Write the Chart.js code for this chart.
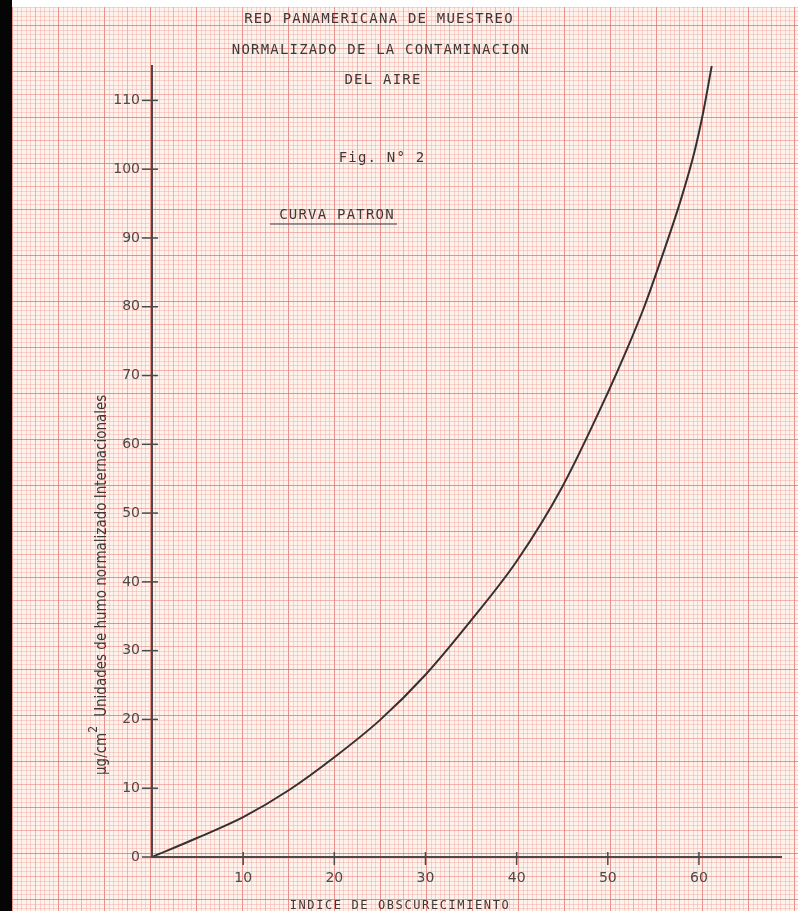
<!DOCTYPE html>
<html>
<head>
<meta charset="utf-8">
<script src="https://cdn.jsdelivr.net/npm/chart.js@4.4.1/dist/chart.umd.min.js"></script>
<style>
    html, body { margin: 0; padding: 0; background: #fdf3ec; }
    #wrap { width: 798px; height: 911px; position: relative; }
</style>
</head>
<body>
<div id="wrap"><canvas id="curva"></canvas></div>
<script>
// datos de la curva patron
const indice = [0, 5, 10, 15, 20, 25, 30, 35, 40, 45, 50, 52, 54, 56, 58, 59.5, 60.5, 61.4];
const unidades = [0, 2.8, 5.8, 9.7, 14.5, 19.9, 26.5, 34.4, 43, 53.8, 67.5, 73.5, 80, 87.5, 95.5, 102.5, 108.5, 115];

// marcas de los ejes
const xTicks = [10, 20, 30, 40, 50, 60];
const yTicks = [0, 10, 20, 30, 40, 50, 60, 70, 80, 90, 100, 110];

// textos
const titleLines = ['RED PANAMERICANA DE MUESTREO', 'NORMALIZADO DE LA CONTAMINACION', 'DEL AIRE'];
const figText = 'Fig. N\u00b0 2';
const subTitle = 'CURVA PATRON';
const xTitle = 'INDICE DE OBSCURECIMIENTO';
const yUnit = '\u00b5g/cm';
const yTitle = 'Unidades de humo normalizado Internacionales';

const ink = '#3e3838';
const mono = '"DejaVu Sans Mono", "Liberation Mono", monospace';
const narrow = '"DejaVu Sans Condensed", "Liberation Sans Narrow", sans-serif';

// papel milimetrado de fondo
function paperColor(k) {
    if (k === 0) return 'rgba(222,100,95,0.68)';
    if (k === 5) return 'rgba(230,120,112,0.5)';
    return 'rgba(238,150,140,0.36)';
}

const paperPlugin = {
    id: 'paper',
    beforeDraw(chart) {
        const ctx = chart.ctx;
        const w = chart.width, h = chart.height;
        const mm = 4.6;
        ctx.save();
        ctx.fillStyle = '#fdf3ec';
        ctx.fillRect(0, 0, w, h);
        ctx.lineWidth = 1;
        // lineas verticales
        for (let i = -20; 58 + i * mm < w; i++) {
            const x = Math.round(58 + i * mm) + 0.5;
            if (x < 12) continue;
            ctx.strokeStyle = paperColor(((i % 10) + 10) % 10);
            ctx.beginPath();
            ctx.moveTo(x, 7);
            ctx.lineTo(x, h);
            ctx.stroke();
        }
        // lineas horizontales
        for (let i = -200; i < 40; i++) {
            const y = Math.round(807 + i * mm) + 0.5;
            if (y < 7 || y > h) continue;
            ctx.strokeStyle = paperColor(((i % 10) + 10) % 10);
            ctx.beginPath();
            ctx.moveTo(12, y);
            ctx.lineTo(w, y);
            ctx.stroke();
        }
        // borde blanco arriba y negro a la izquierda
        ctx.fillStyle = '#ffffff';
        ctx.fillRect(0, 0, w, 7);
        ctx.fillStyle = '#050505';
        ctx.fillRect(0, 0, 12, h);
        ctx.restore();
    }
};

// marcas cruzadas y textos
const textPlugin = {
    id: 'textos',
    afterDraw(chart) {
        const ctx = chart.ctx;
        const xs = chart.scales.x, ys = chart.scales.y;
        ctx.save();
        ctx.strokeStyle = '#4e4848';
        ctx.lineWidth = 1.5;
        xTicks.forEach(v => {
            const px = xs.getPixelForValue(v);
            ctx.beginPath();
            ctx.moveTo(px, ys.bottom - 5);
            ctx.lineTo(px, ys.bottom + 8);
            ctx.stroke();
        });
        yTicks.forEach(v => {
            const py = ys.getPixelForValue(v);
            ctx.beginPath();
            ctx.moveTo(xs.left - 10, py);
            ctx.lineTo(xs.left + 6, py);
            ctx.stroke();
        });

        ctx.fillStyle = ink;
        ctx.textAlign = 'center';
        ctx.textBaseline = 'middle';
        ctx.font = '14px ' + mono;
        ctx.letterSpacing = '1.2px';
        ctx.fillText(titleLines[0], 379, 19);
        ctx.fillText(titleLines[1], 381, 50);
        ctx.fillText(titleLines[2], 383, 80);
        ctx.fillText(figText, 382, 158);
        ctx.fillText(subTitle, 337, 215);
        ctx.lineWidth = 1.2;
        ctx.strokeStyle = ink;
        ctx.beginPath();
        ctx.moveTo(270, 224);
        ctx.lineTo(397, 224);
        ctx.stroke();

        ctx.font = '12px ' + mono;
        ctx.letterSpacing = '1.6px';
        ctx.fillText(xTitle, 400, 906);

        // titulo del eje y, rotado
        ctx.letterSpacing = '0px';
        ctx.translate(102, 775);
        ctx.rotate(-Math.PI / 2);
        ctx.textAlign = 'left';
        ctx.font = '15px ' + narrow;
        ctx.fillText(yUnit, 0, 0);
        let off = ctx.measureText(yUnit).width;
        ctx.font = '12px ' + narrow;
        ctx.fillText('2', off, -8);
        off += ctx.measureText('2').width + 9;
        ctx.font = '15px ' + narrow;
        ctx.fillText(yTitle, off, 0);
        ctx.restore();
    }
};

function init() {
    const ctx = document.getElementById('curva').getContext('2d');
    const points = indice.map((x, i) => ({ x: x, y: unidades[i] }));

    new Chart(ctx, {
        type: 'scatter',
        data: {
            datasets: [{
                data: points,
                showLine: true,
                borderColor: '#363030',
                borderWidth: 2,
                pointRadius: 0,
                cubicInterpolationMode: 'monotone'
            }]
        },
        options: {
            responsive: true,
            maintainAspectRatio: false,
            animation: false,
            layout: { padding: { left: 0, top: 66, right: 17, bottom: 0 } },
            plugins: {
                legend: { display: false },
                tooltip: { enabled: false }
            },
            scales: {
                x: {
                    type: 'linear',
                    min: 0,
                    max: 69,
                    afterBuildTicks: scale => { scale.ticks = xTicks.map(v => ({ value: v })); },
                    afterFit: scale => { scale.height = 54; },
                    grid: { display: false, drawTicks: false },
                    border: { display: true, color: '#4e4848', width: 2 },
                    ticks: {
                        padding: 13,
                        color: '#4e4848',
                        font: { family: '"DejaVu Sans", sans-serif', size: 14 }
                    }
                },
                y: {
                    type: 'linear',
                    min: 0,
                    max: 115,
                    afterBuildTicks: scale => { scale.ticks = yTicks.map(v => ({ value: v })); },
                    afterFit: scale => { scale.width = 152; },
                    grid: { display: false, drawTicks: false },
                    border: { display: true, color: '#4e4848', width: 2 },
                    ticks: {
                        padding: 12,
                        color: '#4e4848',
                        font: { family: '"DejaVu Sans", sans-serif', size: 14 }
                    }
                }
            }
        },
        plugins: [paperPlugin, textPlugin]
    });
}

document.addEventListener('DOMContentLoaded', init);
</script>
</body>
</html>
